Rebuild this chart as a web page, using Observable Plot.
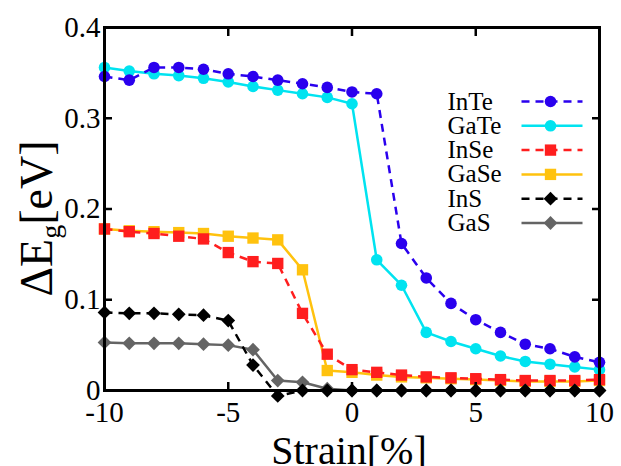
<!DOCTYPE html>
<html>
<head>
<meta charset="utf-8">
<script src="https://cdn.jsdelivr.net/npm/d3@7"></script>
<script src="https://cdn.jsdelivr.net/npm/@observablehq/plot@0.6"></script>
<style>
  html, body { margin: 0; padding: 0; background: #fff; }
  svg { display: block; }
</style>
</head>
<body>
<div id="chart"></div>
<script>
// ---- data ----
const strain = [-10,-9,-8,-7,-6,-5,-4,-3,-2,-1,0,1,2,3,4,5,6,7,8,9,10];
const inTe = [0.346,0.342,0.356,0.356,0.354,0.349,0.346,0.342,0.338,0.334,0.329,0.327,0.162,0.124,0.096,0.078,0.064,0.051,0.046,0.037,0.031];
const gaTe = [0.356,0.352,0.349,0.347,0.344,0.340,0.335,0.331,0.327,0.323,0.316,0.144,0.116,0.064,0.054,0.046,0.038,0.032,0.029,0.026,0.023];
const inSe = [0.178,0.175,0.173,0.170,0.167,0.152,0.142,0.140,0.085,0.040,0.023,0.020,0.017,0.015,0.014,0.013,0.012,0.011,0.011,0.011,0.012];
const gaSe = [0.178,0.176,0.175,0.174,0.173,0.170,0.168,0.166,0.133,0.022,0.020,0.017,0.015,0.014,0.013,0.012,0.011,0.010,0.010,0.010,0.011];
const inS  = [0.086,0.085,0.085,0.084,0.083,0.077,0.028,-0.006,0,0,0,0,0,0,0,0,0,0,0,0,0];
const gaS  = [0.053,0.052,0.052,0.052,0.051,0.050,0.045,0.011,0.009,0.002,0,0,0,0,0,0,0,0,0,0,0];
const seriesNames = ["InTe","GaTe","InSe","GaSe","InS","GaS"];
const xTicks = [-10,-5,0,5,10];
const xTickLabels = ["-10","-5","0","5","10"];
const yTicks = [0,0.1,0.2,0.3,0.4];
const yTickLabels = ["0","0.1","0.2","0.3","0.4"];

// ---- styles ----
const seriesValues = [inTe, gaTe, inSe, gaSe, inS, gaS];
const colors = ["#2a00ee","#00e3f0","#ff1e1e","#ffc20e","#000000","#646464"];
const dashes = ["8,6", null, "8,6", null, "8,6", null];
const symbols = ["circle","circle","square","square","diamond2","diamond2"];
const radii = [5.8,5.8,6.4,6.4,6.2,6.2];
const drawOrder = [1,0,3,2,5,4];

const W = 621, H = 466, mL = 104, mR = 22, mT = 27, mB = 76;
const font = "'Liberation Serif', 'Times New Roman', Times, serif";

const sx = Plot.scale({x: {domain: [-10, 10], range: [mL, W - mR]}});
const sy = Plot.scale({y: {domain: [0, 0.4], range: [H - mB, mT]}});

const marks = [];
for (const k of drawOrder) {
  const rows = strain.map((s, i) => ({s, v: seriesValues[k][i]}));
  marks.push(Plot.line(rows, {x: "s", y: "v", stroke: colors[k], strokeWidth: 2.5,
    strokeDasharray: dashes[k] || undefined, strokeLinecap: "butt"}));
  marks.push(Plot.dot(rows, {x: "s", y: "v", symbol: symbols[k], r: radii[k], fill: colors[k], stroke: "none"}));
}

// legend (layout in pixels, converted through the scales)
const legTextX = 447, legLineX1 = 521, legLineX2 = 582, legMarkX = 550;
const legRow0 = 101, legStep = 24.3;
seriesNames.forEach((name, k) => {
  const yv = sy.invert(legRow0 + k * legStep);
  marks.push(Plot.text([name], {x: sx.invert(legTextX), y: yv, text: d => d, textAnchor: "start",
    lineAnchor: "middle", fontSize: 25, fill: "black"}));
  marks.push(Plot.link([name], {x1: sx.invert(legLineX1), x2: sx.invert(legLineX2), y1: yv, y2: yv,
    stroke: colors[k], strokeWidth: 2.5, strokeDasharray: dashes[k] || undefined}));
  marks.push(Plot.dot([name], {x: sx.invert(legMarkX), y: yv, symbol: symbols[k], r: radii[k], fill: colors[k], stroke: "none"}));
});

const fmtX = d => xTickLabels[xTicks.indexOf(d)];
const fmtY = d => yTickLabels[yTicks.findIndex(t => Math.abs(t - d) < 1e-9)];

const chart = Plot.plot({
  width: W, height: H,
  marginLeft: mL, marginRight: mR, marginTop: mT, marginBottom: mB,
  style: {fontFamily: font, background: "white", overflow: "visible", color: "black"},
  x: {domain: [-10, 10]},
  y: {domain: [0, 0.4]},
  marks: [
    ...marks,
    Plot.frame({stroke: "black", strokeWidth: 3}),
    Plot.axisX({ticks: xTicks, anchor: "bottom", tickSize: -8, fill: "none", strokeWidth: 2.5, label: null}),
    Plot.axisX({ticks: xTicks, anchor: "top", tickSize: -8, fill: "none", strokeWidth: 2.5, label: null}),
    Plot.axisY({ticks: yTicks, anchor: "left", tickSize: -8, fill: "none", strokeWidth: 2.5, label: null}),
    Plot.axisY({ticks: yTicks, anchor: "right", tickSize: -8, fill: "none", strokeWidth: 2.5, label: null}),
    Plot.axisX({ticks: xTicks, anchor: "bottom", tickSize: 0, tickPadding: 11, tickFormat: fmtX, fontSize: 29, label: null}),
    Plot.axisY({ticks: yTicks, anchor: "left", tickSize: 0, tickPadding: 4, tickFormat: fmtY, fontSize: 29, label: null}),
    Plot.text(["Strain[%]"], {frameAnchor: "bottom", dx: -3, dy: 45, lineAnchor: "top", fontSize: 40, text: d => d})
  ]
});

// y-axis title with subscript
const svg = d3.select(chart);
const yl = svg.append("text")
  .attr("transform", `translate(52,${(mT + H - mB) / 2 + 10}) rotate(-90)`)
  .attr("text-anchor", "middle")
  .style("font-family", font)
  .attr("font-size", 46)
  .attr("fill", "black");
yl.append("tspan").text("ΔE");
yl.append("tspan").attr("font-size", 28).attr("dy", 8).text("g");
yl.append("tspan").attr("dy", -8).text("[eV]");

document.getElementById("chart").appendChild(chart);
</script>
</body>
</html>
